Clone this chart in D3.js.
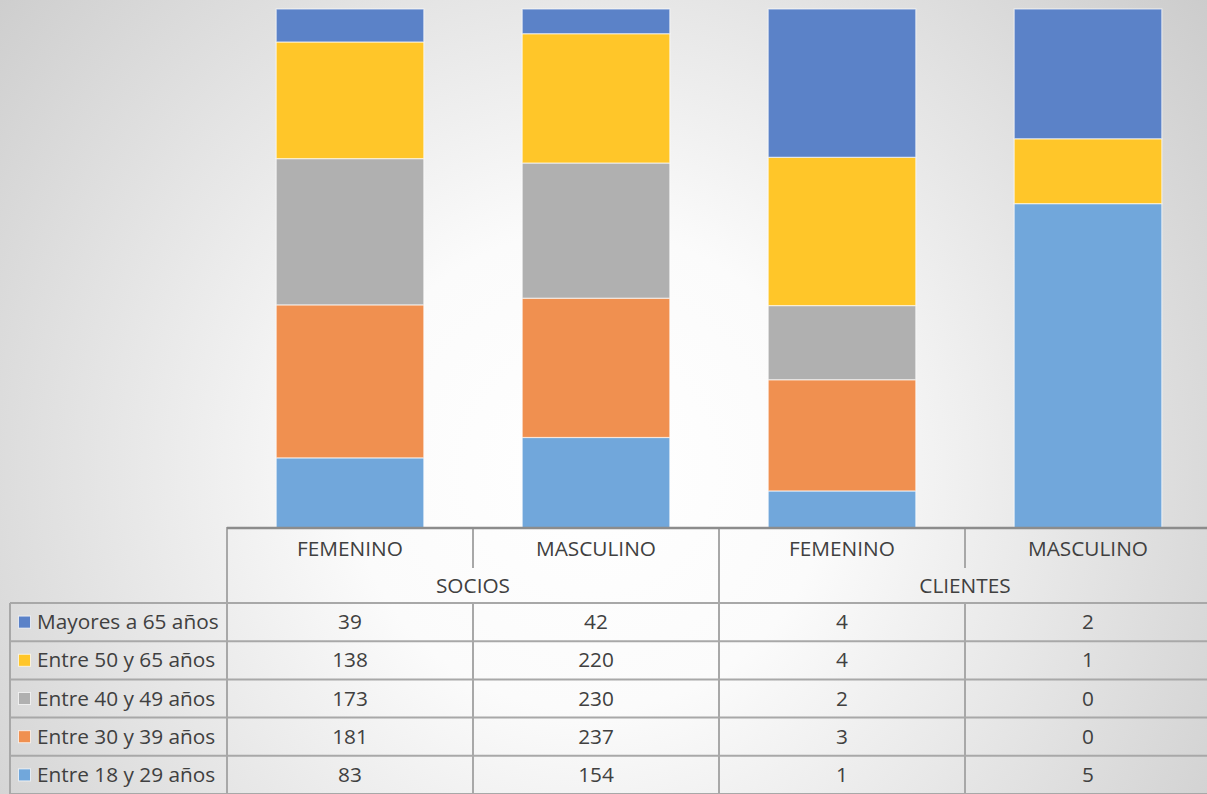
<!DOCTYPE html>
<html><head><meta charset="utf-8">
<script src="https://cdn.jsdelivr.net/npm/d3@7"></script>
<style>html,body{margin:0;padding:0;overflow:hidden;background:#fff}</style>
</head><body>
<svg id="chart" width="1207" height="794"></svg>
<script>
const categories = ["FEMENINO","MASCULINO","FEMENINO","MASCULINO"];
const groups = ["SOCIOS","CLIENTES"];
const seriesNames = ["Mayores a 65 años","Entre 50 y 65 años","Entre 40 y 49 años","Entre 30 y 39 años","Entre 18 y 29 años"];
const mayores65 = [39, 42, 4, 2];
const entre50y65 = [138, 220, 4, 1];
const entre40y49 = [173, 230, 2, 0];
const entre30y39 = [181, 237, 3, 0];
const entre18y29 = [83, 154, 1, 5];
const colors = ["#5b82c8","#ffc629","#b0b0b0","#f09050","#71a7db"];

const seriesValues = [mayores65, entre50y65, entre40y49, entre30y39, entre18y29];

const W = 1207, H = 794;
const svg = d3.select("#chart");
const defs = svg.append("defs");
const grad = defs.append("radialGradient").attr("id","bg")
  .attr("gradientUnits","userSpaceOnUse").attr("cx",590).attr("cy",470).attr("r",800);
grad.append("stop").attr("offset",0).attr("stop-color","#ffffff");
grad.append("stop").attr("offset",0.3).attr("stop-color","#fbfbfb");
grad.append("stop").attr("offset",1).attr("stop-color","#cacaca");
svg.append("rect").attr("width",W).attr("height",H).attr("fill","url(#bg)");

const x0 = 227, step = 246;
const x = d3.scaleBand().domain(d3.range(categories.length))
  .range([x0, x0 + step*categories.length]).paddingInner(0.4).paddingOuter(0.2);
const y = d3.scaleLinear().domain([0,1]).range([528, 9]);

const keys = seriesNames.slice().reverse();
const rows = categories.map((c,i)=>{
  const o = {idx:i};
  seriesNames.forEach((s,j)=>{ o[s] = seriesValues[j][i]; });
  return o;
});
const totals = categories.map((c,i)=>d3.sum(seriesValues, v=>v[i]));
const stack = d3.stack().keys(keys).value((d,k)=>d[k]/totals[d.idx]);
const stacked = stack(rows);

const colorOf = d3.scaleOrdinal().domain(seriesNames).range(colors);

svg.append("g").selectAll("g").data(stacked).join("g")
  .attr("fill", d=>colorOf(d.key))
  .selectAll("rect").data(d=>d).join("rect")
  .attr("x", d=>x(d.data.idx))
  .attr("width", x.bandwidth())
  .attr("y", d=>y(d[1]))
  .attr("height", d=>Math.max(0, y(d[0]) - y(d[1])))
  .attr("stroke","rgba(255,255,255,0.6)").attr("stroke-width",1.2);

const font = "'Open Sans', 'Noto Sans', sans-serif";
const txtColor = "#404040";
const lineColor = "#a8a8a8";
const tableRight = W + 10;
const tTop = 527, catRowBottom = 568, dataTop = 603, rowH = 38.2;
const legendLeft = 10;
const g = svg.append("g");
const line = (x1,y1,x2,y2,c,w)=>g.append("line").attr("x1",x1).attr("y1",y1).attr("x2",x2).attr("y2",y2)
  .attr("stroke",c||lineColor).attr("stroke-width",w||2);

for (let r=0; r<=seriesNames.length; r++) {
  line(legendLeft, dataTop + r*rowH, tableRight, dataTop + r*rowH);
}
line(legendLeft, dataTop, legendLeft, H+5);
line(x0, tTop, x0, H+5);
for (let i=1;i<categories.length;i++){
  const xx = x0 + step*i;
  if (i % 2 === 0) line(xx, tTop, xx, H+5);
  else { line(xx, tTop, xx, catRowBottom); line(xx, dataTop, xx, H+5); }
}
line(x0, tTop+1, tableRight, tTop+1, "#8c8c8c", 2.5);

const fs = 20.8;
g.selectAll("text.cat").data(categories).join("text").attr("class","cat")
  .attr("x",(d,i)=>x(i)+x.bandwidth()/2).attr("y",555.5)
  .attr("text-anchor","middle").attr("font-family",font).attr("font-size",fs).attr("fill",txtColor)
  .text(d=>d);
g.selectAll("text.grp").data(groups).join("text").attr("class","grp")
  .attr("x",(d,i)=>x0 + step*(2*i+1)).attr("y",592.5)
  .attr("text-anchor","middle").attr("font-family",font).attr("font-size",fs).attr("fill",txtColor)
  .text(d=>d);
seriesNames.forEach((s,j)=>{
  const cy = dataTop + j*rowH + rowH/2;
  g.append("rect").attr("x",18.5).attr("y",cy-6).attr("width",12).attr("height",12)
    .attr("fill",colors[j]).attr("stroke","rgba(255,255,255,0.7)").attr("stroke-width",1);
  g.append("text").attr("x",37).attr("y",cy+7).attr("font-family",font).attr("font-size",fs)
    .attr("fill",txtColor).text(s);
  seriesValues[j].forEach((v,i)=>{
    g.append("text").attr("x",x(i)+x.bandwidth()/2).attr("y",cy+7).attr("text-anchor","middle")
      .attr("font-family",font).attr("font-size",fs).attr("fill",txtColor).text(v);
  });
});
</script>
</body></html>
